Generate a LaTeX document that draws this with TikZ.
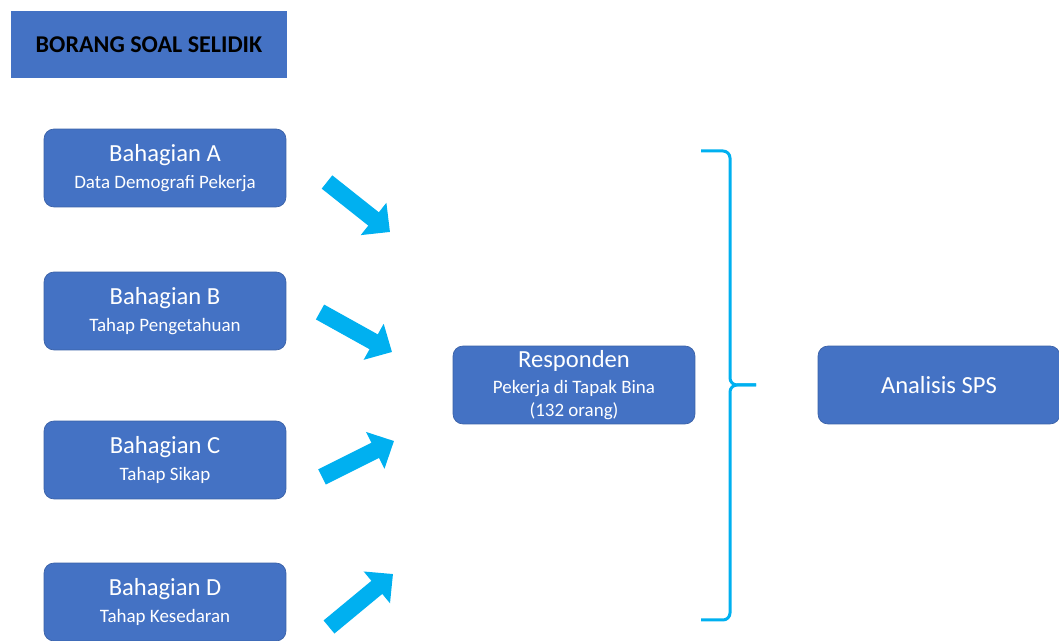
\documentclass[tikz,border=0pt]{standalone}
\usepackage{fontspec}
\setmainfont{Carlito}
\usetikzlibrary{arrows.meta}
\definecolor{boxblue}{HTML}{4472C4}
\definecolor{arrowblue}{HTML}{00B0F0}
\newcommand{\bigtxt}{\fontsize{14}{17}\selectfont}
\newcommand{\smalltxt}{\fontsize{10.8}{13}\selectfont}
\tikzset{
  part/.style={rectangle, rounded corners=0.2cm, fill=boxblue, draw=boxblue!85!black,
    text=white, minimum width=4.84cm, minimum height=1.56cm, align=center, inner sep=0pt,
    font=\smalltxt},
  blockarrow/.style={arrowblue, line width=0.34cm, -{Triangle[width=0.8cm,length=0.42cm]}},
  bracket/.style={arrowblue, line width=0.06cm, rounded corners=0.14cm}
}
\begin{document}
\begin{tikzpicture}[x=0.02cm, y=-0.02cm]
    \useasboundingbox (0,0) rectangle (1059,641);
    \node[rectangle, fill=boxblue, minimum width=5.52cm, minimum height=1.34cm,
          font=\fontsize{13.7}{16}\selectfont\bfseries] (title) at (149,44.5) {BORANG SOAL SELIDIK};

    \node[part] (bhgA) at (165,168) {{\bigtxt Bahagian A}\\[2pt] Data Demografi Pekerja};
    \node[part] (bhgB) at (165,311) {{\bigtxt Bahagian B}\\[2pt] Tahap Pengetahuan};
    \node[part] (bhgC) at (165,460) {{\bigtxt Bahagian C}\\[2pt] Tahap Sikap};
    \node[part] (bhgD) at (165,602) {{\bigtxt Bahagian D}\\[2pt] Tahap Kesedaran};

    \node[part] (resp) at (574,385) {{\bigtxt Responden}\\[2pt] Pekerja di Tapak Bina\\ (132 orang)};
    \node[part] (sps) at (939,385) {\bigtxt Analisis SPS};

    % block arrows
    \coordinate (tailA) at (327,182); \coordinate (tipA) at (390,232);
    \coordinate (tailB) at (320,312); \coordinate (tipB) at (392,352);
    \coordinate (tailC) at (322,477); \coordinate (tipC) at (394,441);
    \coordinate (tailD) at (329,627); \coordinate (tipD) at (393,574);
    \draw[blockarrow] (tailA) -- (tipA);
    \draw[blockarrow] (tailB) -- (tipB);
    \draw[blockarrow] (tailC) -- (tipC);
    \draw[blockarrow] (tailD) -- (tipD);

    % brace
    \coordinate (braceTop) at (701,151);
    \coordinate (braceBot) at (701,620);
    \coordinate (braceEnd) at (756,385);
    \draw[bracket] (braceTop) -- (730,151) -- (730,385) -- (braceEnd);
    \draw[bracket] (braceBot) -- (730,620) -- (730,385) -- (braceEnd);
\end{tikzpicture}
\end{document}
